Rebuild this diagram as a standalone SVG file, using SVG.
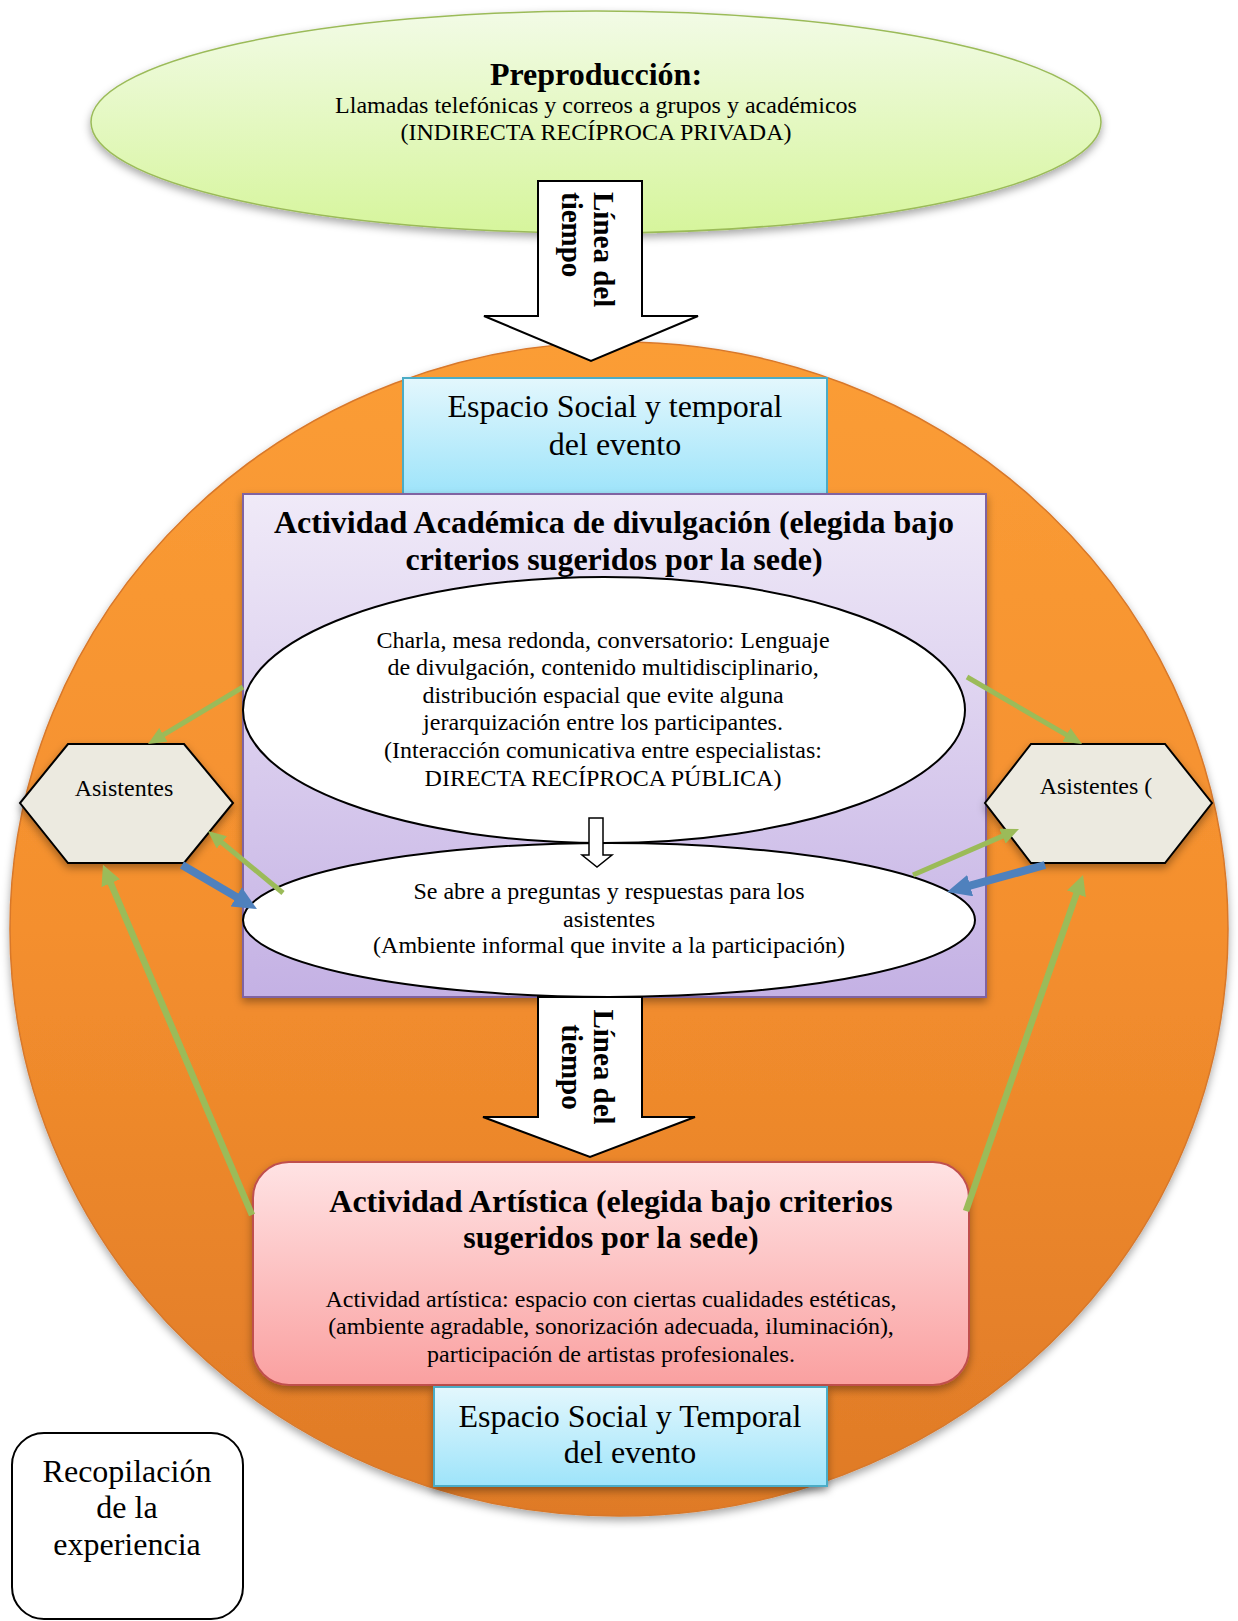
<svg xmlns="http://www.w3.org/2000/svg" width="1238" height="1621" viewBox="0 0 1238 1621">
<defs>
<style>
text{font-family:'Liberation Serif','Times New Roman',serif;fill:#000}
.b32{font-size:32px;font-weight:bold}
.r32{font-size:32px}
.r24{font-size:24px}
.tl{font-size:29px;font-weight:bold}
.mid{text-anchor:middle}
.gl{stroke:#9bbb59;stroke-width:5;fill:none}
.gll{stroke:#9bbb59;stroke-width:6.5;fill:none}
.bl{stroke:#4f81bd;stroke-width:8;fill:none}
.blk{stroke:#000;stroke-width:2}
</style>
<linearGradient id="gGreen" x1="0" y1="0" x2="0" y2="1"><stop offset="0" stop-color="#f2fbe6"/><stop offset="1" stop-color="#d6f59c"/></linearGradient>
<linearGradient id="gOrange" x1="0" y1="0" x2="0" y2="1"><stop offset="0" stop-color="#fb9d36"/><stop offset="0.5" stop-color="#f48f2e"/><stop offset="1" stop-color="#df7a27"/></linearGradient>
<linearGradient id="gBlue" x1="0" y1="0" x2="0" y2="1"><stop offset="0" stop-color="#e3f7fd"/><stop offset="1" stop-color="#9ee4fa"/></linearGradient>
<linearGradient id="gPurple" x1="0" y1="0" x2="0" y2="1"><stop offset="0" stop-color="#f0eaf8"/><stop offset="1" stop-color="#c4b1e4"/></linearGradient>
<linearGradient id="gRed" x1="0" y1="0" x2="0" y2="1"><stop offset="0" stop-color="#ffe3e4"/><stop offset="1" stop-color="#faa0a0"/></linearGradient>
<filter id="sh" x="-10%" y="-10%" width="120%" height="130%"><feDropShadow dx="0" dy="4" stdDeviation="4" flood-color="#000" flood-opacity="0.35"/></filter>
<marker id="gh" markerUnits="userSpaceOnUse" markerWidth="18" markerHeight="16" refX="2" refY="8" orient="auto"><path d="M0,0 L18,8 L0,16 z" fill="#9bbb59"/></marker>
<marker id="ghl" markerUnits="userSpaceOnUse" markerWidth="20" markerHeight="20" refX="2" refY="10" orient="auto"><path d="M0,0 L20,10 L0,20 z" fill="#9bbb59"/></marker>
<marker id="bh" markerUnits="userSpaceOnUse" markerWidth="24" markerHeight="22" refX="2" refY="11" orient="auto"><path d="M0,0 L24,11 L0,22 z" fill="#4f81bd"/></marker>
</defs>

<g id="espacio-circulo">
<ellipse cx="619" cy="929" rx="609" ry="587" fill="url(#gOrange)" stroke="#d8782a" stroke-width="1.5" filter="url(#sh)"/>
</g>

<g id="preproduccion">
<ellipse cx="596" cy="122" rx="505" ry="111" fill="url(#gGreen)" stroke="#9bbb59" stroke-width="1.5" filter="url(#sh)"/>
<text class="b32 mid" x="596" y="85">Preproducción:</text>
<text class="r24 mid" x="596" y="113">Llamadas telefónicas y correos a grupos y académicos</text>
<text class="r24 mid" x="596" y="140">(INDIRECTA RECÍPROCA PRIVADA)</text>
</g>

<g id="linea-tiempo-1">
<polygon points="538,181 642,181 642,316 698,316 591,361 484,316 538,316" fill="#fff" class="blk"/>
<text class="tl" transform="translate(594,192) rotate(90)">Línea del</text>
<text class="tl" transform="translate(562,192) rotate(90)">tiempo</text>
</g>

<g id="espacio-superior">
<rect x="403" y="378" width="424" height="116" fill="url(#gBlue)" stroke="#4bacc6" stroke-width="2"/>
<text class="r32 mid" x="615" y="417">Espacio Social y temporal</text>
<text class="r32 mid" x="615" y="455">del evento</text>
</g>

<g id="actividad-academica">
<rect x="243" y="494" width="743" height="503" fill="url(#gPurple)" stroke="#8064a2" stroke-width="2" filter="url(#sh)"/>
<text class="b32 mid" x="614" y="533">Actividad Académica de divulgación (elegida bajo</text>
<text class="b32 mid" x="614" y="570">criterios sugeridos por la sede)</text>
</g>

<g id="charla">
<ellipse cx="604" cy="710" rx="361" ry="133" fill="#fff" class="blk"/>
<text class="r24 mid" x="603" y="648">Charla, mesa redonda, conversatorio: Lenguaje</text>
<text class="r24 mid" x="603" y="675">de divulgación, contenido multidisciplinario,</text>
<text class="r24 mid" x="603" y="703">distribución espacial que evite alguna</text>
<text class="r24 mid" x="603" y="730">jerarquización entre los participantes.</text>
<text class="r24 mid" x="603" y="758">(Interacción comunicativa entre especialistas:</text>
<text class="r24 mid" x="603" y="786">DIRECTA RECÍPROCA PÚBLICA)</text>
</g>

<g id="preguntas">
<ellipse cx="609" cy="920" rx="366" ry="77" fill="#fff" class="blk"/>
<text class="r24 mid" x="609" y="899">Se abre a preguntas y respuestas para los</text>
<text class="r24 mid" x="609" y="927">asistentes</text>
<text class="r24 mid" x="609" y="953">(Ambiente informal que invite a la participación)</text>
</g>

<g id="flecha-pequena">
<polygon points="589,818 603,818 603,855 612,855 597,867 582,855 589,855" fill="#fff" stroke="#000" stroke-width="1.5"/>
</g>

<g id="asistentes-izq">
<polygon points="68,744 184,744 233,803 184,863 68,863 20,803" fill="#eceae0" class="blk" filter="url(#sh)"/>
<text class="r24 mid" x="124" y="796">Asistentes</text>
</g>

<g id="asistentes-der">
<polygon points="1031,744 1165,744 1212,803 1165,863 1031,863 985,803" fill="#eceae0" class="blk" filter="url(#sh)"/>
<text class="r24 mid" x="1096" y="794">Asistentes (</text>
</g>

<g id="linea-tiempo-2">
<polygon points="538,997 642,997 642,1117 695,1117 590,1157 483,1117 538,1117" fill="#fff" class="blk"/>
<text class="tl mid" transform="translate(594,1067) rotate(90)">Línea del</text>
<text class="tl mid" transform="translate(562,1067) rotate(90)">tiempo</text>
</g>

<g id="actividad-artistica">
<rect x="253" y="1162" width="716" height="223" rx="36" ry="36" fill="url(#gRed)" stroke="#c0504d" stroke-width="2" filter="url(#sh)"/>
<text class="b32 mid" x="611" y="1212">Actividad Artística (elegida bajo criterios</text>
<text class="b32 mid" x="611" y="1248">sugeridos por la sede)</text>
<text class="r24 mid" x="611" y="1307">Actividad artística: espacio con ciertas cualidades estéticas,</text>
<text class="r24 mid" x="611" y="1334">(ambiente agradable, sonorización adecuada, iluminación),</text>
<text class="r24 mid" x="611" y="1362">participación de artistas profesionales.</text>
</g>

<g id="espacio-inferior">
<rect x="434" y="1387" width="393" height="99" fill="url(#gBlue)" stroke="#4bacc6" stroke-width="2" filter="url(#sh)"/>
<text class="r32 mid" x="630" y="1427">Espacio Social y Temporal</text>
<text class="r32 mid" x="630" y="1463">del evento</text>
</g>

<g id="recopilacion">
<rect x="12" y="1433" width="231" height="186" rx="32" ry="32" fill="#fff" class="blk"/>
<text class="r32 mid" x="127" y="1482">Recopilación</text>
<text class="r32 mid" x="127" y="1518">de la</text>
<text class="r32 mid" x="127" y="1555">experiencia</text>
</g>

<g id="connectors">
<line class="gl" x1="243" y1="687" x2="161.7" y2="735.8" marker-end="url(#gh)"/>
<line class="gl" x1="283" y1="893" x2="220.3" y2="841.2" marker-end="url(#gh)"/>
<line class="bl" x1="182" y1="865" x2="238" y2="897.9" marker-end="url(#bh)"/>
<line class="gll" x1="252" y1="1215" x2="110" y2="881.4" marker-end="url(#ghl)"/>
<line class="gl" x1="967" y1="677" x2="1068.2" y2="735.9" marker-end="url(#gh)"/>
<line class="gl" x1="913" y1="875" x2="1004.3" y2="835.4" marker-end="url(#gh)"/>
<line class="bl" x1="1045" y1="865" x2="968.2" y2="886.2" marker-end="url(#bh)"/>
<line class="gll" x1="966" y1="1211" x2="1077.1" y2="892" marker-end="url(#ghl)"/>
</g>
</svg>
